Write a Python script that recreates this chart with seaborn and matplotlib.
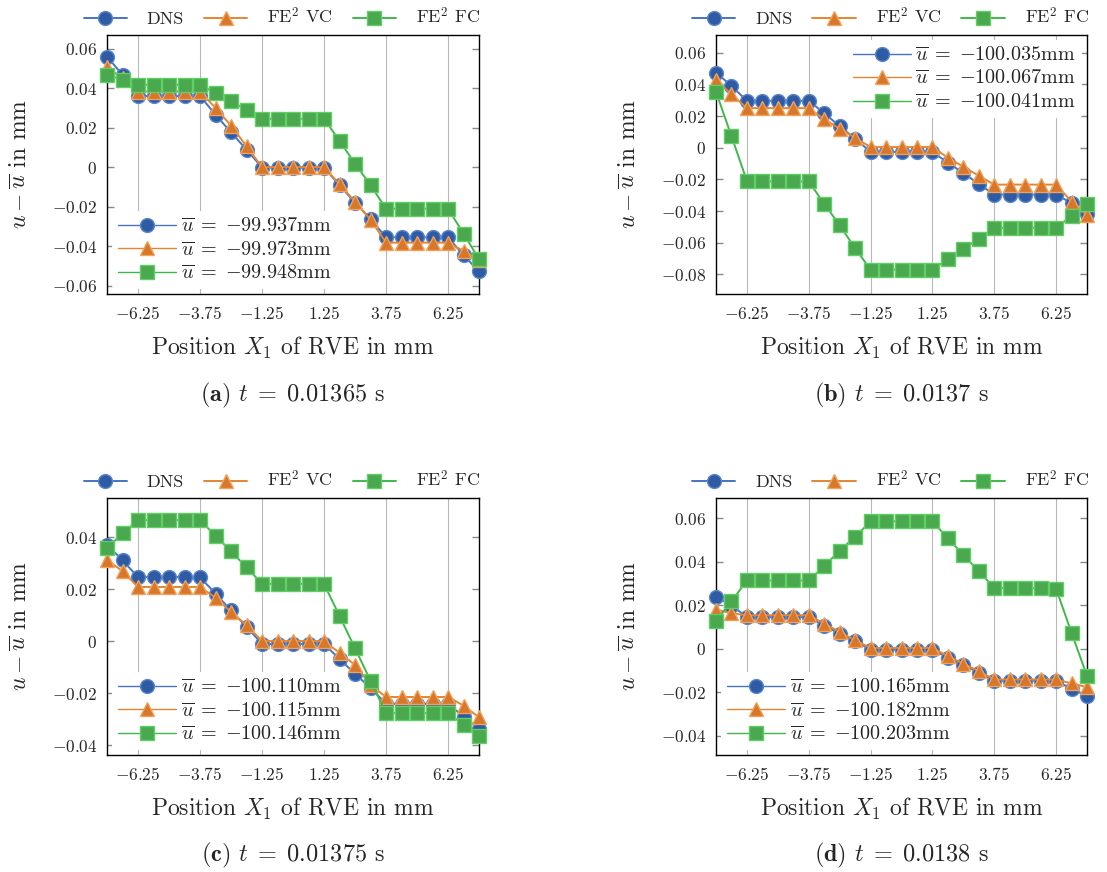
import numpy as np
import matplotlib
matplotlib.use("Agg")
import matplotlib.pyplot as plt
import seaborn as sns

sns.set_theme(style="white")
plt.rcParams['font.family'] = ['serif']
plt.rcParams['font.serif'] = ['cmr10', 'DejaVu Serif']
plt.rcParams['mathtext.fontset'] = 'cm'
plt.rcParams['axes.unicode_minus'] = False
plt.rcParams['axes.formatter.use_mathtext'] = True

# x positions of the RVEs (mm)
positions = [-7.5, -6.875, -6.25, -5.625, -5.0, -4.375, -3.75, -3.125, -2.5, -1.875,
             -1.25, -0.625, 0.0, 0.625, 1.25, 1.875, 2.5, 3.125, 3.75, 4.375,
             5.0, 5.625, 6.25, 6.875, 7.5]
xtick_vals = [-6.25, -3.75, -1.25, 1.25, 3.75, 6.25]

# (a) t = 0.01365 s
a_dns = [0.0560, 0.0467, 0.0360, 0.0360, 0.0360, 0.0360, 0.0360, 0.0266, 0.0176, 0.0089,
         -0.0002, -0.0002, -0.0002, -0.0002, -0.0002, -0.0091, -0.0180, -0.0262, -0.0355, -0.0355,
         -0.0355, -0.0355, -0.0355, -0.0445, -0.0528]
a_vc = [0.0505, 0.0450, 0.0383, 0.0383, 0.0383, 0.0383, 0.0383, 0.0300, 0.0210, 0.0106,
        0.0000, 0.0000, 0.0000, 0.0000, 0.0000, -0.0087, -0.0175, -0.0266, -0.0382, -0.0382,
        -0.0382, -0.0382, -0.0382, -0.0424, -0.0470]
a_fc = [0.0467, 0.0442, 0.0417, 0.0417, 0.0417, 0.0417, 0.0417, 0.0375, 0.0333, 0.0290,
        0.0245, 0.0245, 0.0245, 0.0245, 0.0245, 0.0134, 0.0018, -0.0091, -0.0210, -0.0210,
        -0.0210, -0.0210, -0.0210, -0.0336, -0.0466]
a_means = ['99.937', '99.973', '99.948']

# (b) t = 0.0137 s
b_dns = [0.0475, 0.0390, 0.0296, 0.0296, 0.0296, 0.0296, 0.0296, 0.0219, 0.0135, 0.0058,
         -0.0027, -0.0027, -0.0027, -0.0027, -0.0027, -0.0094, -0.0160, -0.0229, -0.0296, -0.0296,
         -0.0296, -0.0296, -0.0296, -0.0350, -0.0417]
b_vc = [0.0427, 0.0338, 0.0250, 0.0250, 0.0250, 0.0250, 0.0250, 0.0181, 0.0120, 0.0063,
        0.0004, 0.0004, 0.0004, 0.0004, 0.0004, -0.0063, -0.0120, -0.0177, -0.0233, -0.0233,
        -0.0233, -0.0233, -0.0233, -0.0340, -0.0427]
b_fc = [0.0354, 0.0073, -0.0210, -0.0212, -0.0213, -0.0213, -0.0213, -0.0354, -0.0490, -0.0635,
        -0.0770, -0.0770, -0.0770, -0.0770, -0.0770, -0.0704, -0.0640, -0.0575, -0.0506, -0.0506,
        -0.0506, -0.0506, -0.0506, -0.0431, -0.0358]
b_means = ['100.035', '100.067', '100.041']

# (c) t = 0.01375 s
c_dns = [0.0371, 0.0310, 0.0246, 0.0246, 0.0246, 0.0246, 0.0246, 0.0182, 0.0118, 0.0055,
         -0.0011, -0.0011, -0.0011, -0.0011, -0.0011, -0.0069, -0.0126, -0.0180, -0.0241, -0.0241,
         -0.0241, -0.0241, -0.0241, -0.0290, -0.0338]
c_vc = [0.0312, 0.0269, 0.0208, 0.0208, 0.0208, 0.0208, 0.0208, 0.0167, 0.0112, 0.0061,
        0.0000, 0.0000, 0.0000, 0.0000, 0.0000, -0.0045, -0.0092, -0.0168, -0.0215, -0.0215,
        -0.0215, -0.0215, -0.0215, -0.0248, -0.0293]
c_fc = [0.0358, 0.0414, 0.0465, 0.0465, 0.0465, 0.0465, 0.0465, 0.0405, 0.0345, 0.0284,
        0.0220, 0.0220, 0.0220, 0.0220, 0.0220, 0.0097, -0.0028, -0.0152, -0.0277, -0.0277,
        -0.0277, -0.0277, -0.0277, -0.0321, -0.0364]
c_means = ['100.110', '100.115', '100.146']

# (d) t = 0.0138 s
d_dns = [0.0237, 0.0198, 0.0145, 0.0145, 0.0145, 0.0145, 0.0145, 0.0104, 0.0069, 0.0035,
         -0.0005, -0.0005, -0.0005, -0.0005, -0.0005, -0.0041, -0.0076, -0.0110, -0.0148, -0.0148,
         -0.0148, -0.0148, -0.0148, -0.0185, -0.0218]
d_vc = [0.0179, 0.0163, 0.0153, 0.0153, 0.0153, 0.0153, 0.0153, 0.0115, 0.0076, 0.0038,
        0.0003, 0.0003, 0.0003, 0.0003, 0.0003, -0.0035, -0.0069, -0.0104, -0.0142, -0.0142,
        -0.0142, -0.0142, -0.0142, -0.0160, -0.0177]
d_fc = [0.0127, 0.0217, 0.0313, 0.0313, 0.0313, 0.0313, 0.0313, 0.0379, 0.0450, 0.0514,
        0.0585, 0.0585, 0.0585, 0.0585, 0.0585, 0.0507, 0.0430, 0.0356, 0.0278, 0.0278,
        0.0278, 0.0277, 0.0276, 0.0072, -0.0125]
d_means = ['100.165', '100.182', '100.203']

series_names = ['DNS', r'FE$^2$ VC', r'FE$^2$ FC']
captions = ['(a)', '(b)', '(c)', '(d)']
times = ['0.01365', '0.0137', '0.01375', '0.0138']

# colours / markers per series
line_cols = ['#4674bf', '#e38532', '#3fb84b']
face_cols = ['#2f5ba5', '#d8762a', '#4aa84e']
edge_cols = ['#5a88cc', '#efa25c', '#5fcf66']
markers = ['o', '^', 's']
msizes = [10, 10, 9.5]

panels = [
    dict(data=[a_dns, a_vc, a_fc], means=a_means, ylim=(-0.0642, 0.0669),
         yticks=[-0.06, -0.04, -0.02, 0, 0.02, 0.04, 0.06], loc='lower left'),
    dict(data=[b_dns, b_vc, b_fc], means=b_means, ylim=(-0.0924, 0.0712),
         yticks=[-0.08, -0.06, -0.04, -0.02, 0, 0.02, 0.04, 0.06], loc='upper right'),
    dict(data=[c_dns, c_vc, c_fc], means=c_means, ylim=(-0.0438, 0.0550),
         yticks=[-0.04, -0.02, 0, 0.02, 0.04], loc='lower left'),
    dict(data=[d_dns, d_vc, d_fc], means=d_means, ylim=(-0.0489, 0.0692),
         yticks=[-0.04, -0.02, 0, 0.02, 0.04, 0.06], loc='lower left'),
]

W, H = 1107, 872
fig = plt.figure(figsize=(W / 100, H / 100), dpi=100)

# axes boxes in pixels: left, top, right, bottom
boxes = [(107, 35, 479, 294), (716, 35, 1087, 294),
         (107, 498, 479, 755), (716, 498, 1087, 755)]
caption_y = [395, 395, 855, 855]


def fmt_tick(v):
    if abs(v) < 1e-12:
        return '$0$'
    return '$%s$' % ('%g' % v)


for i, p in enumerate(panels):
    l, t, r, b = boxes[i]
    ax = fig.add_axes([l / W, 1 - b / H, (r - l) / W, (b - t) / H])
    lines = []
    for k, vals in enumerate(p['data']):
        sns.lineplot(x=positions, y=vals, ax=ax, color=line_cols[k], linewidth=1.4,
                     marker=markers[k], markersize=msizes[k],
                     markerfacecolor=face_cols[k], markeredgecolor=edge_cols[k],
                     markeredgewidth=1.0, errorbar=None, legend=False, zorder=3 + k,
                     clip_on=False)
        lines.append(ax.lines[-1])

    ax.set_xlim(-7.5, 7.5)
    ax.set_ylim(*p['ylim'])
    ax.set_xticks(xtick_vals)
    ax.set_xticklabels(['$%s$' % ('%g' % v) for v in xtick_vals], fontsize=12.5)
    ax.set_yticks(p['yticks'])
    ax.set_yticklabels([fmt_tick(v) for v in p['yticks']], fontsize=12.5)
    ax.grid(True, axis='x', color='#b8b8b8', linewidth=0.8)
    ax.grid(False, axis='y')
    ax.tick_params(axis='x', length=0, pad=8)
    ax.tick_params(axis='y', direction='in', length=5, width=1, color='#8a8a8a',
                   left=True, right=True, pad=7)
    for s in ax.spines.values():
        s.set_color('black')
        s.set_linewidth(1.0)
        s.set_zorder(2.5)

    ax.set_xlabel(r'Position $X_1$ of RVE in mm', fontsize=17)
    ax.xaxis.set_label_coords(0.5, -0.16)
    ax.xaxis.label.set_va('top')
    ax.set_ylabel(r'$u - \overline{u}$ in mm', fontsize=17)
    ax.yaxis.set_label_coords(-0.205, 0.5)

    # legend above the axes
    top_leg = ax.legend(lines, series_names, loc='lower center', bbox_to_anchor=(0.47, 1.0),
                        ncol=3, frameon=False, fontsize=13, handlelength=2.4,
                        handletextpad=1.1, columnspacing=1.1, borderaxespad=0.05)
    ax.add_artist(top_leg)

    # legend with mean displacements
    labels = [r'$\overline{u}\;=\;{-}%s$mm' % m for m in p['means']]
    inner = ax.legend(lines, labels, loc=p['loc'], frameon=True, fontsize=14.5,
                      handlelength=2.9, handletextpad=0.2, labelspacing=0.25,
                      borderaxespad=0.25, borderpad=0.3, framealpha=1.0)
    inner.get_frame().set_facecolor('white')
    inner.get_frame().set_edgecolor('none')
    inner.set_zorder(10)
    for h in inner.legend_handles:
        h.set_linewidth(1.0)

    fig.text((l + r) / 2 / W, 1 - caption_y[i] / H,
             r'$\mathbf{%s}$ $t\;=\;%s$ s' % (captions[i], times[i]),
             ha='center', va='center', fontsize=17.5)

fig.savefig('out.png', dpi=100)
